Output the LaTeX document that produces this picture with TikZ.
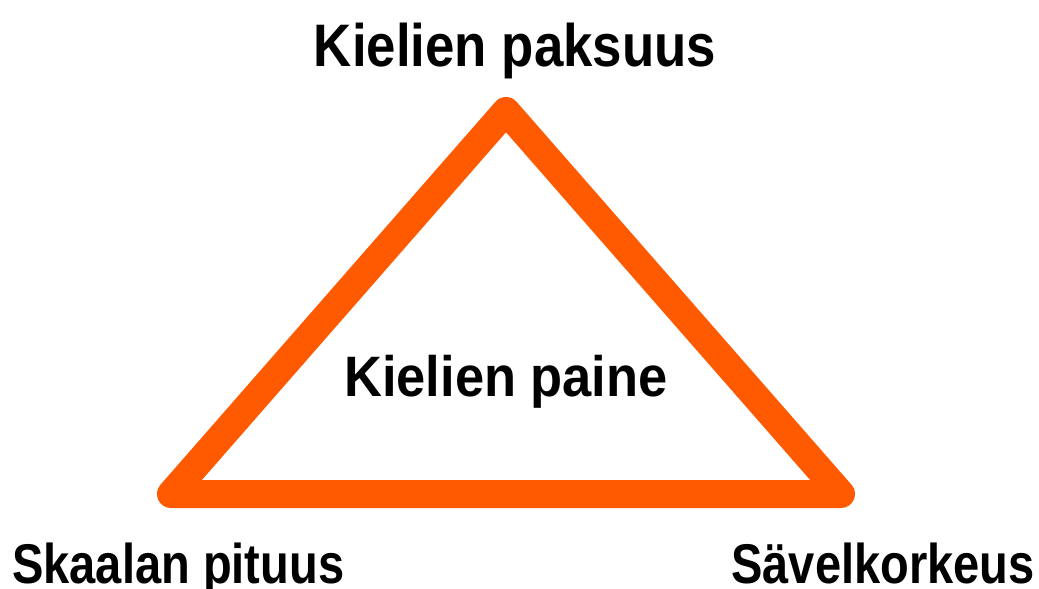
\documentclass[tikz,border=0pt]{standalone}
\usepackage{fontspec}
\setmainfont[FakeStretch=0.88]{Liberation Sans}
\newfontfamily\midfont[FakeStretch=0.92]{Liberation Sans}
\newfontfamily\narrowfont[FakeStretch=0.84]{Liberation Sans}
\definecolor{tri}{RGB}{255,90,0}
\begin{document}
\begin{tikzpicture}[x=1pt,y=-1pt,
  lbl/.style={font=\bfseries\fontsize{60}{60}\selectfont, inner sep=0pt},
  midlbl/.style={font=\midfont\bfseries\fontsize{57}{57}\selectfont, inner sep=0pt},
  botlbl/.style={font=\narrowfont\bfseries\fontsize{56}{56}\selectfont, inner sep=0pt},
  side/.style={draw=tri, line width=28pt, line join=round, line cap=round}]
\useasboundingbox (0,0) rectangle (1039,589);
\coordinate (A) at (506,111);
\coordinate (B) at (171,494);
\coordinate (C) at (841,494);
\draw[side] (A) -- (B) -- (C) -- cycle;
\node[lbl, anchor=base] (top) at (515,66) {Kielien paksuus};
\node[midlbl, anchor=base] (mid) at (506,396) {Kielien paine};
\node[botlbl, anchor=base west] (left) at (12,583) {Skaalan pituus};
\node[botlbl, anchor=base east] (right) at (1035,583) {Sävelkorkeus};
\end{tikzpicture}
\end{document}
